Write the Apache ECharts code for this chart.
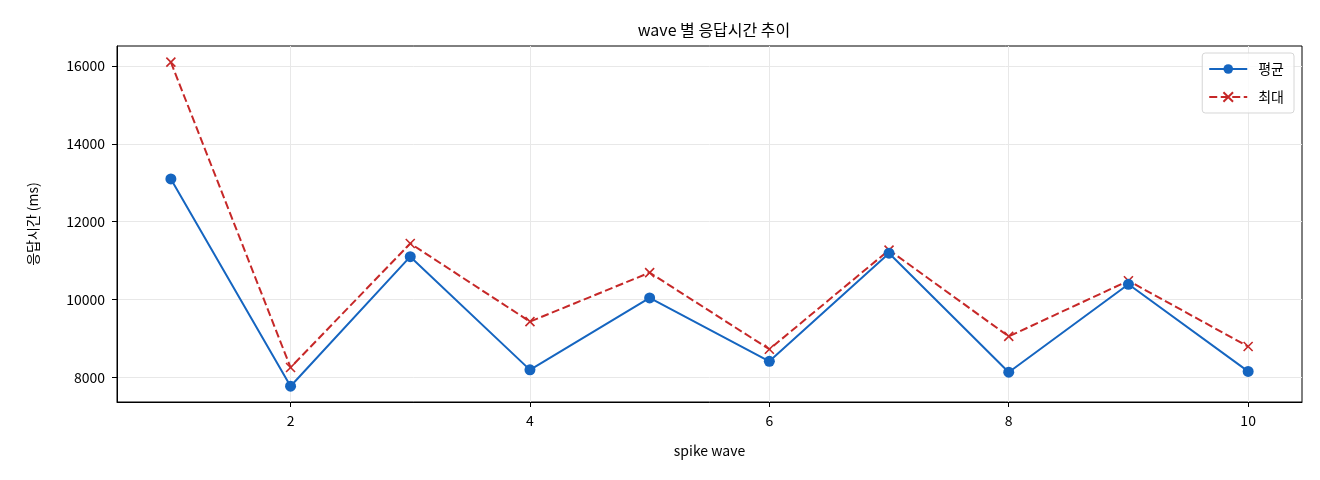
<!DOCTYPE html>
<html>
<head>
<meta charset="utf-8">
<script src="https://cdn.jsdelivr.net/npm/echarts@6/dist/echarts.min.js"></script>
<style>
  html, body { margin: 0; padding: 0; background: #fff; }
  #chart { width: 1320px; height: 480px; }
</style>
</head>
<body>
<div id="chart"></div>
<script>
// wave 별 응답시간 추이
var waves = [1, 2, 3, 4, 5, 6, 7, 8, 9, 10];
var avgMs = [13100, 7770, 11100, 8190, 10040, 8410, 11190, 8130, 10390, 8150];
var maxMs = [16100, 8250, 11440, 9430, 10690, 8720, 11270, 9050, 10480, 8790];
var xTicks = [2, 4, 6, 8, 10];
var yTicks = [8000, 10000, 12000, 14000, 16000];

var font = '"Noto Sans CJK KR", "Noto Sans", sans-serif';
var blue = '#1565C0';
var red = '#C62828';

function pairs(vals) {
  return waves.map(function(w, i) { return [w, vals[i]]; });
}

var chart = echarts.init(document.getElementById('chart'), null, { renderer: 'canvas' });

chart.setOption({
  animation: false,
  textStyle: { fontFamily: font },
  title: {
    text: 'wave 별 응답시간 추이',
    left: 709, top: 17, textAlign: 'center',
    textStyle: { fontSize: 16, fontWeight: 'normal', color: '#000', fontFamily: font }
  },
  grid: {
    left: 117, right: 18, top: 46, bottom: 78,
    show: true, borderColor: '#000', borderWidth: 1
  },
  legend: {
    orient: 'vertical',
    right: 26, top: 53,
    itemWidth: 38, itemHeight: 12, itemGap: 14,
    padding: [9, 10, 9, 6],
    borderColor: '#d6d6d6', borderWidth: 1, borderRadius: 3,
    backgroundColor: 'rgba(255,255,255,0.8)',
    textStyle: { fontSize: 14, color: '#000', fontFamily: font, padding: [0, 0, 0, 6] },
    data: ['평균', '최대']
  },
  xAxis: {
    type: 'value',
    min: 0.55, max: 10.45,
    name: 'spike wave',
    nameLocation: 'middle', nameGap: 42,
    nameTextStyle: { fontSize: 14, color: '#000', fontFamily: font },
    axisLine: { show: true, lineStyle: { color: '#000', width: 1 } },
    axisTick: { show: true, customValues: xTicks, length: 5, lineStyle: { color: '#000' } },
    axisLabel: { customValues: xTicks, fontSize: 14, color: '#000', margin: 12, fontFamily: font },
    splitLine: { show: true, lineStyle: { color: '#e8e8e8', width: 1 } }
  },
  yAxis: {
    type: 'value',
    min: 7364, max: 16516,
    name: '응답시간 (ms)',
    nameLocation: 'middle', nameGap: 77, nameRotate: 90,
    nameTextStyle: { fontSize: 14, color: '#000', fontFamily: font },
    axisLine: { show: true, lineStyle: { color: '#000', width: 1 } },
    axisTick: { show: true, customValues: yTicks, length: 5, lineStyle: { color: '#000' } },
    axisLabel: {
      customValues: yTicks, fontSize: 14, color: '#000', margin: 12, fontFamily: font,
      formatter: function(v) { return String(v); }
    },
    splitLine: { show: true, lineStyle: { color: '#e8e8e8', width: 1 } }
  },
  series: [
    {
      name: '평균',
      type: 'line',
      data: pairs(avgMs),
      symbol: 'circle',
      symbolSize: 11,
      lineStyle: { color: blue, width: 2 },
      itemStyle: { color: blue },
      z: 3
    },
    {
      name: '최대',
      type: 'line',
      data: pairs(maxMs),
      symbol: 'path://M0,0L10,10M10,0L0,10',
      symbolSize: 9,
      lineStyle: { color: red, width: 2, type: [8, 3.5] },
      itemStyle: { color: red, borderColor: red, borderWidth: 1.6 },
      z: 2
    }
  ]
});

window.addEventListener('resize', function() { chart.resize(); });
</script>
</body>
</html>
